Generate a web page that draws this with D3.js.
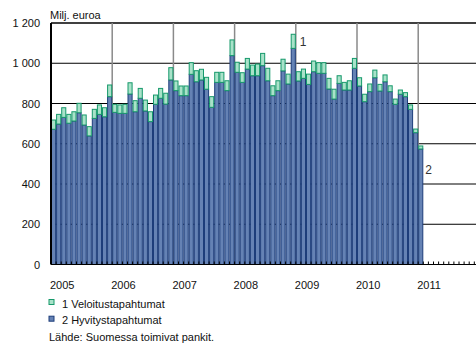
<!DOCTYPE html>
<html>
<head>
<meta charset="utf-8">
<script src="https://cdn.jsdelivr.net/npm/d3@7/dist/d3.min.js"></script>
<style>
  body { margin: 0; background: #fff; }
  svg { display: block; font-family: Arial, "Liberation Sans", sans-serif; }
</style>
</head>
<body>
<div id="chart"></div>
<script>
// monthly data, Jan 2005 - Jan 2011 (milj. euroa)
var yearLabels = ['2005', '2006', '2007', '2008', '2009', '2010', '2011'];
var yTicks = [0, 200, 400, 600, 800, 1000, 1200];

// 2 Hyvitystapahtumat (blue, bottom)
var hyvitys = [
  672, 698, 731, 702, 713, 754, 693, 639, 726, 746, 734, 834,
  756, 751, 751, 847, 759, 826, 763, 710, 796, 826, 797, 917,
  864, 839, 839, 945, 908, 917, 871, 781, 905, 905, 864, 1038,
  955, 905, 971, 938, 938, 988, 913, 839, 864, 962, 897, 1074,
  912, 925, 895, 958, 950, 950, 872, 822, 900, 867, 867, 975,
  887, 809, 859, 928, 862, 908, 859, 796, 846, 834, 771, 655,
  574
];
// 1 Veloitustapahtumat (green, on top)
var veloitus = [
  46, 48, 48, 44, 46, 47, 50, 46, 45, 47, 45, 58,
  40, 42, 45, 56, 55, 49, 54, 49, 46, 49, 54, 61,
  48, 48, 48, 58, 55, 53, 59, 53, 50, 50, 49, 78,
  50, 48, 53, 53, 58, 61, 62, 49, 49, 58, 49, 70,
  46, 46, 51, 53, 53, 53, 53, 49, 38, 38, 46, 49,
  41, 37, 38, 38, 33, 34, 29, 26, 21, 20, 22, 18,
  15
];

var blueFill = '#6582b4', blueLine = '#1d3d7a',
    greenFill = '#a9e2c9', greenLine = '#16996b';

var W = 476, H = 350;
var plotLeft = 51, plotRight = 479.4, plotTop = 23, plotBottom = 264.5;
var nMonths = yearLabels.length * 12; // axis runs to start of 2012

var svg = d3.select('#chart').append('svg')
    .attr('width', W)
    .attr('height', H);

var xScale = d3.scaleBand()
    .domain(d3.range(nMonths + 1))
    .range([plotLeft, plotRight + (plotRight - plotLeft) / nMonths])
    .padding(0);
var bw = xScale.bandwidth();

var yScale = d3.scaleLinear().domain([0, 1200]).range([plotBottom, plotTop]);

// horizontal grid
svg.append('g').selectAll('line')
    .data(yTicks.filter(function(d) { return d > 0; }))
    .enter().append('line')
    .attr('x1', plotLeft).attr('x2', W)
    .attr('y1', function(d) { return yScale(d); })
    .attr('y2', function(d) { return yScale(d); })
    .attr('stroke', '#000')
    .attr('stroke-width', function(d) { return d === 1200 ? 1.5 : 1; });

// year grid
svg.append('g').selectAll('line')
    .data(d3.range(1, yearLabels.length))
    .enter().append('line')
    .attr('x1', function(d) { return xScale(d * 12); })
    .attr('x2', function(d) { return xScale(d * 12); })
    .attr('y1', plotTop).attr('y2', plotBottom)
    .attr('stroke', '#8a8a8a')
    .attr('stroke-width', 1.5);

// stacked bars
var rows = hyvitys.map(function(h, i) { return { i: i, h: h, v: veloitus[i] }; });

var bars = svg.append('g');
bars.selectAll('rect.h').data(rows)
    .enter().append('rect')
    .attr('class', 'h')
    .attr('x', function(d) { return xScale(d.i) + 0.5; })
    .attr('width', bw - 1)
    .attr('y', function(d) { return yScale(d.h); })
    .attr('height', function(d) { return yScale(0) - yScale(d.h); })
    .attr('fill', blueFill)
    .attr('stroke', blueLine)
    .attr('stroke-width', 1);

bars.selectAll('rect.v').data(rows)
    .enter().append('rect')
    .attr('class', 'v')
    .attr('x', function(d) { return xScale(d.i) + 0.5; })
    .attr('width', bw - 1)
    .attr('y', function(d) { return yScale(d.h + d.v); })
    .attr('height', function(d) { return yScale(d.h) - yScale(d.h + d.v); })
    .attr('fill', greenFill)
    .attr('stroke', greenLine)
    .attr('stroke-width', 1);

// axes lines and month ticks
svg.append('line')
    .attr('x1', plotLeft).attr('x2', plotLeft)
    .attr('y1', plotTop).attr('y2', plotBottom)
    .attr('stroke', '#000').attr('stroke-width', 2);

svg.append('line')
    .attr('x1', plotLeft).attr('x2', W)
    .attr('y1', plotBottom).attr('y2', plotBottom)
    .attr('stroke', '#000').attr('stroke-width', 1.2);

svg.append('g').selectAll('line')
    .data(d3.range(1, nMonths + 1))
    .enter().append('line')
    .attr('x1', function(d) { return xScale(d); })
    .attr('x2', function(d) { return xScale(d); })
    .attr('y1', plotBottom).attr('y2', plotBottom - 3)
    .attr('stroke', '#000').attr('stroke-width', 1);

// y labels
svg.append('g').selectAll('text')
    .data(yTicks)
    .enter().append('text')
    .attr('x', 40)
    .attr('y', function(d) { return yScale(d) + 4; })
    .attr('text-anchor', 'end')
    .style('font-size', '11px')
    .attr('fill', '#111')
    .text(function(d) { return d3.format(',')(d).replace(',', ' '); });

svg.append('text')
    .attr('x', 50).attr('y', 19)
    .style('font-size', '11px')
    .attr('fill', '#111')
    .text('Milj. euroa');

// year labels
svg.append('g').selectAll('text')
    .data(yearLabels)
    .enter().append('text')
    .attr('x', function(d, i) { return xScale(i * 12) - 1; })
    .attr('y', 289)
    .style('font-size', '11px')
    .attr('fill', '#111')
    .text(function(d) { return d; });

// series markers
svg.append('text')
    .attr('x', xScale(47) + bw + 4)
    .attr('y', yScale(hyvitys[47] + veloitus[47]) + 12)
    .style('font-size', '12px')
    .attr('fill', '#333')
    .text('1');

var last = hyvitys.length - 1;
svg.append('text')
    .attr('x', xScale(last) + bw + 2)
    .attr('y', yScale(hyvitys[last] + veloitus[last]) + 28)
    .style('font-size', '12px')
    .attr('fill', '#333')
    .text('2');

// legend
var legend = [
  { label: '1 Veloitustapahtumat', fill: greenFill, line: greenLine },
  { label: '2 Hyvitystapahtumat', fill: blueFill, line: blueLine }
];
var lg = svg.append('g').selectAll('g')
    .data(legend)
    .enter().append('g')
    .attr('transform', function(d, i) { return 'translate(49, ' + (299.5 + i * 16.7) + ')'; });
lg.append('rect')
    .attr('width', 5).attr('height', 5)
    .attr('fill', function(d) { return d.fill; })
    .attr('stroke', function(d) { return d.line; })
    .attr('stroke-width', 1);
lg.append('text')
    .attr('x', 13).attr('y', 8)
    .style('font-size', '11px')
    .attr('fill', '#111')
    .text(function(d) { return d.label; });

svg.append('text')
    .attr('x', 49).attr('y', 341)
    .style('font-size', '11px')
    .attr('fill', '#111')
    .text('Lähde: Suomessa toimivat pankit.');
</script>
</body>
</html>
